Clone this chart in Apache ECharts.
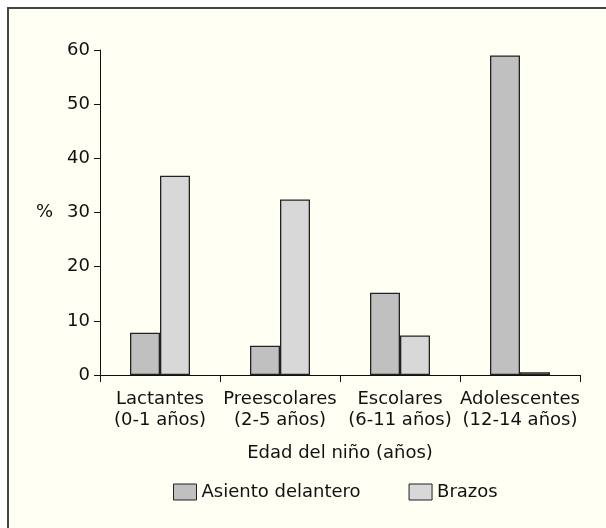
<!DOCTYPE html>
<html>
<head>
<meta charset="utf-8">
<script src="https://cdn.jsdelivr.net/npm/echarts@6/dist/echarts.min.js"></script>
<style>
html,body{margin:0;padding:0;background:#ffffff;}
#c{width:606px;height:528px;}
</style>
</head>
<body>
<div id="c"></div>
<script>
const categories = ['Lactantes\n(0-1 años)', 'Preescolares\n(2-5 años)', 'Escolares\n(6-11 años)', 'Adolescentes\n(12-14 años)'];
const asientoDelantero = [7.8, 5.4, 15.2, 59.0];
const brazos = [36.8, 32.4, 7.3, 0.5];
const yTicks = [0, 10, 20, 30, 40, 50, 60];

const font = '"DejaVu Sans", "Liberation Sans", Arial, sans-serif';
const fs = 18;
const chart = echarts.init(document.getElementById('c'), null, {renderer: 'canvas'});
chart.setOption({
  backgroundColor: '#ffffff',
  animation: false,
  graphic: [
    {type: 'rect', z: -10, shape: {x: 8, y: 8, width: 620, height: 540},
     style: {fill: '#fffff4', stroke: '#444444', lineWidth: 2}},
    {type: 'text', left: 36, top: 203, style: {text: '%', font: fs + 'px ' + font, fill: '#111'}}
  ],
  grid: {left: 100, right: 26, top: 50, bottom: 153},
  legend: {
    bottom: 22, left: 168,
    itemWidth: 23, itemHeight: 16, itemGap: 48,
    icon: 'rect',
    textStyle: {fontFamily: font, fontSize: fs, color: '#111'},
    data: [
      {name: 'Asiento delantero', itemStyle: {color: '#c0c0c0', borderColor: '#222', borderWidth: 1}},
      {name: 'Brazos', itemStyle: {color: '#d8d8d8', borderColor: '#222', borderWidth: 1}}
    ]
  },
  xAxis: {
    type: 'category',
    data: categories,
    name: 'Edad del niño (años)',
    nameLocation: 'middle',
    nameGap: 69,
    nameTextStyle: {fontFamily: font, fontSize: fs, color: '#111'},
    axisLine: {lineStyle: {color: '#111', width: 1}},
    axisTick: {show: true, length: 7, lineStyle: {color: '#111'}},
    axisLabel: {fontFamily: font, fontSize: fs, color: '#111', lineHeight: 21, margin: 14, interval: 0}
  },
  yAxis: {
    type: 'value', min: 0, max: 60, interval: 10,
    axisLine: {show: true, lineStyle: {color: '#111', width: 1}},
    axisTick: {show: true, length: 6, lineStyle: {color: '#111'}},
    splitLine: {show: false},
    axisLabel: {fontFamily: font, fontSize: fs, color: '#111', margin: 10,
      formatter: v => yTicks.includes(v) ? String(v) : ''}
  },
  series: [
    {name: 'Asiento delantero', type: 'bar', data: asientoDelantero, barWidth: 30, barGap: '0%',
     itemStyle: {color: '#c0c0c0', borderColor: '#222', borderWidth: 1.3}},
    {name: 'Brazos', type: 'bar', data: brazos, barWidth: 30,
     itemStyle: {color: '#d8d8d8', borderColor: '#222', borderWidth: 1.3}}
  ]
});
</script>
</body>
</html>
